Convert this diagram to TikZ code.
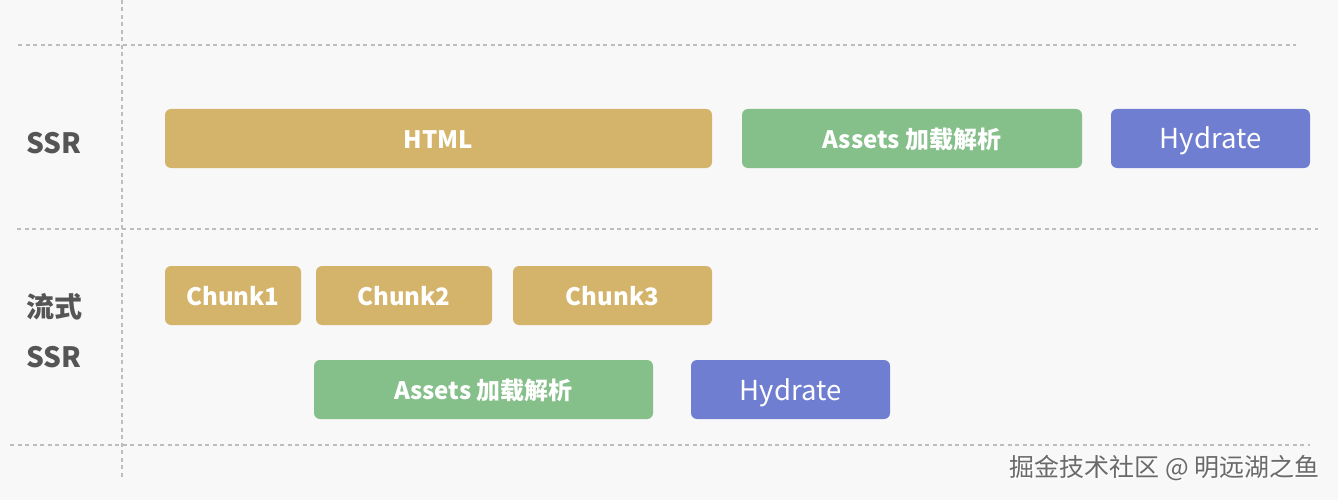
\documentclass[tikz,border=0pt]{standalone}
\usepackage{fontspec}
\setmainfont{Noto Sans CJK SC}
\usetikzlibrary{calc}
\definecolor{bg}{HTML}{F8F8F8}
\definecolor{gold}{HTML}{D4B46A}
\definecolor{leaf}{HTML}{85BF8A}
\definecolor{violet}{HTML}{6F7ED0}
\definecolor{grid}{HTML}{BDBDBD}
\definecolor{lab}{HTML}{555555}
\definecolor{wm}{HTML}{6A6A6A}
\begin{document}
\begin{tikzpicture}[x=1pt,y=-1pt,
  box/.style={rectangle, rounded corners=6pt, draw=none, text=white, inner sep=0pt, minimum height=59pt, text height=20.6pt, text depth=0pt, font=\fontsize{24}{28}\selectfont\bfseries},
  hyd/.style={box, fill=violet, text height=21pt, font=\fontsize{27.5}{32}\selectfont},
  guide/.style={draw=grid, line width=1.4pt, dash pattern=on 4pt off 3.5pt},
  rowlab/.style={text=lab, font=\fontsize{28}{32}\selectfont\bfseries, inner sep=0pt, anchor=west, text height=20.5pt, text depth=0pt}]
\fill[bg] (0,0) rectangle (1338,500);
\useasboundingbox (0,0) rectangle (1338,500);
% guides
\coordinate (h1a) at (18,45); \coordinate (h1b) at (1296,45);
\coordinate (h2a) at (17,229); \coordinate (h2b) at (1318,229);
\coordinate (h3a) at (10,445); \coordinate (h3b) at (1310,445);
\coordinate (v1a) at (122,0); \coordinate (v1b) at (122,478);
\draw[guide] (h1a) -- (h1b);
\draw[guide] (h2a) -- (h2b);
\draw[guide] (h3a) -- (h3b);
\draw[guide] (v1a) -- (v1b);
% labels
\node[rowlab] (lssr) at (26,143) {SSR};
\node[rowlab] (lstream) at (26,307) {流式};
\node[rowlab] (lssr2) at (26,357.5) {SSR};
% SSR row
\node[box, fill=gold, minimum width=547pt] (html) at (438.5,138.5) {HTML};
\node[box, fill=leaf, minimum width=340pt] (assets1) at (912,138.5) {Assets 加载解析};
\node[hyd, minimum width=199pt] (hyd1) at (1210.5,138.5) {Hydrate};
% streaming row
\node[box, fill=gold, minimum width=136pt] (c1) at (233,295.5) {Chunk1};
\node[box, fill=gold, minimum width=176pt] (c2) at (404,295.5) {Chunk2};
\node[box, fill=gold, minimum width=199pt] (c3) at (612.5,295.5) {Chunk3};
\node[box, fill=leaf, minimum width=339pt] (assets2) at (483.5,389.5) {Assets 加载解析};
\node[hyd, minimum width=199pt] (hyd2) at (790.5,389.5) {Hydrate};
% watermark
\node[text=white, font=\fontsize{25}{28}\selectfont, anchor=east, inner sep=0pt] (wshadow) at (1321.5,469.5) {掘金技术社区 @ 明远湖之鱼};
\node[text=wm, font=\fontsize{25}{28}\selectfont, anchor=east, inner sep=0pt] (wmark) at (1320,468) {掘金技术社区 @ 明远湖之鱼};
\end{tikzpicture}
\end{document}
